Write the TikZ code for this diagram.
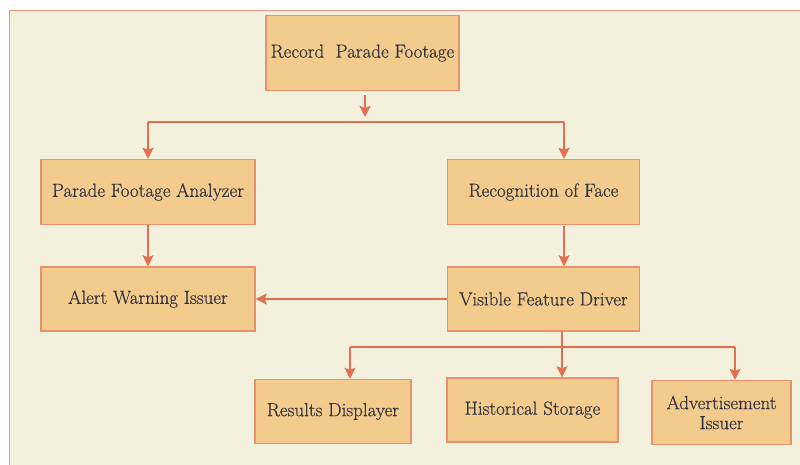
\documentclass[tikz,border=0pt]{standalone}
\usepackage{fontspec}
\setmainfont{Latin Modern Roman}[FakeBold=0.5]
\usetikzlibrary{arrows.meta}
\definecolor{bgc}{HTML}{F4F0DE}
\definecolor{framec}{HTML}{E9977A}
\definecolor{boxfill}{HTML}{F2CB8D}
\definecolor{boxdraw}{HTML}{E8916C}
\definecolor{arrc}{HTML}{E0704F}
\definecolor{txtc}{HTML}{34343F}
\tikzset{
  box/.style={draw=boxdraw, fill=boxfill, line width=1.4pt, rectangle, inner sep=2pt,
    text=txtc, font=\rmfamily\fontsize{19}{21}\selectfont, align=center},
  conn/.style={draw=arrc, line width=2pt},
  arr/.style={conn, -{Stealth[length=11pt,width=11pt,inset=2pt]}},
}
\begin{document}
\begin{tikzpicture}[x=1pt,y=-1pt]
\useasboundingbox (0,0) rectangle (800,464);
\fill[white] (0,0) rectangle (800,464);
\filldraw[fill=bgc, draw=framec, line width=1.4pt] (9.5,10.5) rectangle (810,475);

\node[box, minimum width=193pt, minimum height=75pt] (rec) at (362.5,53) {Record\ \ Parade Footage};
\node[box, minimum width=214pt, minimum height=65pt] (pfa) at (148,192) {Parade Footage Analyzer};
\node[box, minimum width=192pt, minimum height=65pt] (rof) at (543.5,192) {Recognition of Face};
\node[box, minimum width=214pt, minimum height=64pt] (awi) at (148,299) {Alert Warning Issuer};
\node[box, minimum width=192pt, minimum height=64pt] (vfd) at (543.5,299) {Visible Feature Driver};
\node[box, minimum width=156pt, minimum height=64pt] (res) at (333,411.5) {Results Displayer};
\node[box, minimum width=171pt, minimum height=64pt] (his) at (532.5,410) {Historical Storage};
\node[box, minimum width=139pt, minimum height=64pt] (adv) at (721.5,412.5) {Advertisement\\[-1pt]Issuer};

% top fan-out
\coordinate (s1) at (365,95);
\coordinate (e1) at (365,117);
\coordinate (hl) at (148,122);
\coordinate (hr) at (564,122);
\draw[arr] (s1) -- (e1);
\draw[conn] (hl) -- (hr);
\draw[arr] (hl) -- (hl |- pfa.north);
\draw[arr] (hr) -- (hr |- rof.north);

% middle
\draw[arr] (pfa.south) -- (awi.north);
\coordinate (rb) at (564,226);
\draw[arr] (rb) -- (rb |- vfd.north);
\draw[arr] (vfd.west) -- (awi.east);

% bottom fan-out
\coordinate (vb) at (562,331);
\coordinate (bl) at (350,347);
\coordinate (bm) at (562,347);
\coordinate (br) at (735,347);
\draw[conn] (vb) -- (bm);
\draw[conn] (bl) -- (br);
\draw[arr] (bl) -- (bl |- res.north);
\draw[arr] (bm) -- (bm |- his.north);
\draw[arr] (br) -- (br |- adv.north);
\end{tikzpicture}
\end{document}
